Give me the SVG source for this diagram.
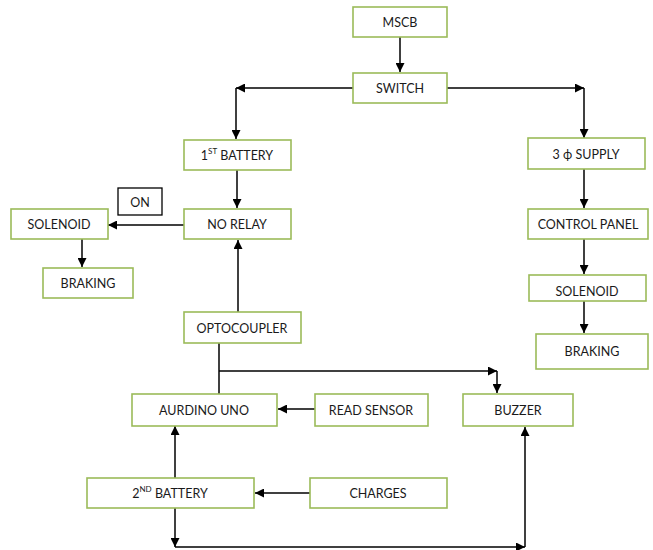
<svg xmlns="http://www.w3.org/2000/svg" width="653" height="550" viewBox="0 0 653 550">
<defs>
<marker id="ah" viewBox="0 0 10 10" refX="10" refY="5" markerWidth="9" markerHeight="9" markerUnits="userSpaceOnUse" orient="auto">
<path d="M0,0 L10,5 L0,10 z" fill="#000"/>
</marker>
<style>
.box{fill:#fff;stroke:#9bbb59;stroke-width:1.6}
.bbox{fill:#fff;stroke:#000;stroke-width:1.3}
.t{font-family:Lato,"Open Sans","Liberation Sans",sans-serif;font-size:12.5px;fill:#1a1a1a;text-anchor:middle;dominant-baseline:central}
.sup{font-size:8px}
.c{fill:none;stroke:#000;stroke-width:1.5}
.a{marker-end:url(#ah)}
</style>
</defs>
<rect width="653" height="550" fill="#fff"/>
<g id="connectors">
<line class="c a" x1="400" y1="37" x2="400" y2="72"/>
<line class="c a" x1="353" y1="88" x2="236" y2="88"/>
<line class="c a" x1="236" y1="88" x2="236" y2="139"/>
<line class="c a" x1="447" y1="88" x2="584" y2="88"/>
<line class="c a" x1="584" y1="88" x2="584" y2="138"/>
<line class="c a" x1="237" y1="170" x2="237" y2="208"/>
<line class="c a" x1="184" y1="225" x2="108" y2="225"/>
<line class="c a" x1="82" y1="239" x2="82" y2="267"/>
<line class="c a" x1="584" y1="169" x2="584" y2="208"/>
<line class="c a" x1="584" y1="239" x2="584" y2="274"/>
<line class="c a" x1="584" y1="301" x2="584" y2="333"/>
<line class="c a" x1="238" y1="312" x2="238" y2="240"/>
<line class="c" x1="219" y1="343" x2="219" y2="394"/>
<line class="c a" x1="219" y1="371" x2="497" y2="371"/>
<line class="c a" x1="497" y1="371" x2="497" y2="393"/>
<line class="c a" x1="315" y1="409" x2="278" y2="409"/>
<line class="c a" x1="175" y1="478" x2="175" y2="426"/>
<line class="c a" x1="310" y1="493" x2="255" y2="493"/>
<line class="c a" x1="175" y1="508" x2="175" y2="547"/>
<line class="c a" x1="175" y1="547" x2="525" y2="547"/>
<line class="c a" x1="525" y1="547" x2="525" y2="427"/>
</g>
<g id="mscb"><rect class="box" x="353" y="7" width="94" height="30"/><text class="t" x="400" y="22">MSCB</text></g>
<g id="switch"><rect class="box" x="353" y="73" width="94" height="30"/><text class="t" x="400" y="88">SWITCH</text></g>
<g id="battery1"><rect class="box" x="184" y="140" width="107" height="30"/><text class="t" x="237" y="155">1<tspan class="sup" dy="-4">ST</tspan><tspan dy="4"> BATTERY</tspan></text></g>
<g id="supply"><rect class="box" x="528" y="138" width="117" height="31"/><text class="t" x="586" y="154">3 ϕ SUPPLY</text></g>
<g id="on"><rect class="bbox" x="118" y="188" width="44" height="27"/><text class="t" x="140" y="202">ON</text></g>
<g id="norelay"><rect class="box" x="184" y="209" width="107" height="30"/><text class="t" x="237" y="224">NO RELAY</text></g>
<g id="solenoid1"><rect class="box" x="11" y="209" width="97" height="30"/><text class="t" x="59" y="224">SOLENOID</text></g>
<g id="braking1"><rect class="box" x="43" y="268" width="90" height="30"/><text class="t" x="88" y="283">BRAKING</text></g>
<g id="controlpanel"><rect class="box" x="528" y="209" width="120" height="30"/><text class="t" x="588" y="224">CONTROL PANEL</text></g>
<g id="solenoid2"><rect class="box" x="529" y="275" width="117" height="26"/><text class="t" x="587" y="291">SOLENOID</text></g>
<g id="braking2"><rect class="box" x="536" y="334" width="112" height="35"/><text class="t" x="592" y="351">BRAKING</text></g>
<g id="optocoupler"><rect class="box" x="184" y="312" width="117" height="31"/><text class="t" x="242" y="328">OPTOCOUPLER</text></g>
<g id="arduino"><rect class="box" x="132" y="394" width="145" height="32"/><text class="t" x="204" y="410">AURDINO UNO</text></g>
<g id="readsensor"><rect class="box" x="315" y="394" width="113" height="32"/><text class="t" x="371" y="410">READ SENSOR</text></g>
<g id="buzzer"><rect class="box" x="463" y="394" width="110" height="32"/><text class="t" x="518" y="410">BUZZER</text></g>
<g id="battery2"><rect class="box" x="87" y="478" width="167" height="30"/><text class="t" x="170" y="493">2<tspan class="sup" dy="-4">ND</tspan><tspan dy="4"> BATTERY</tspan></text></g>
<g id="charges"><rect class="box" x="310" y="478" width="137" height="30"/><text class="t" x="378" y="493">CHARGES</text></g>
</svg>
